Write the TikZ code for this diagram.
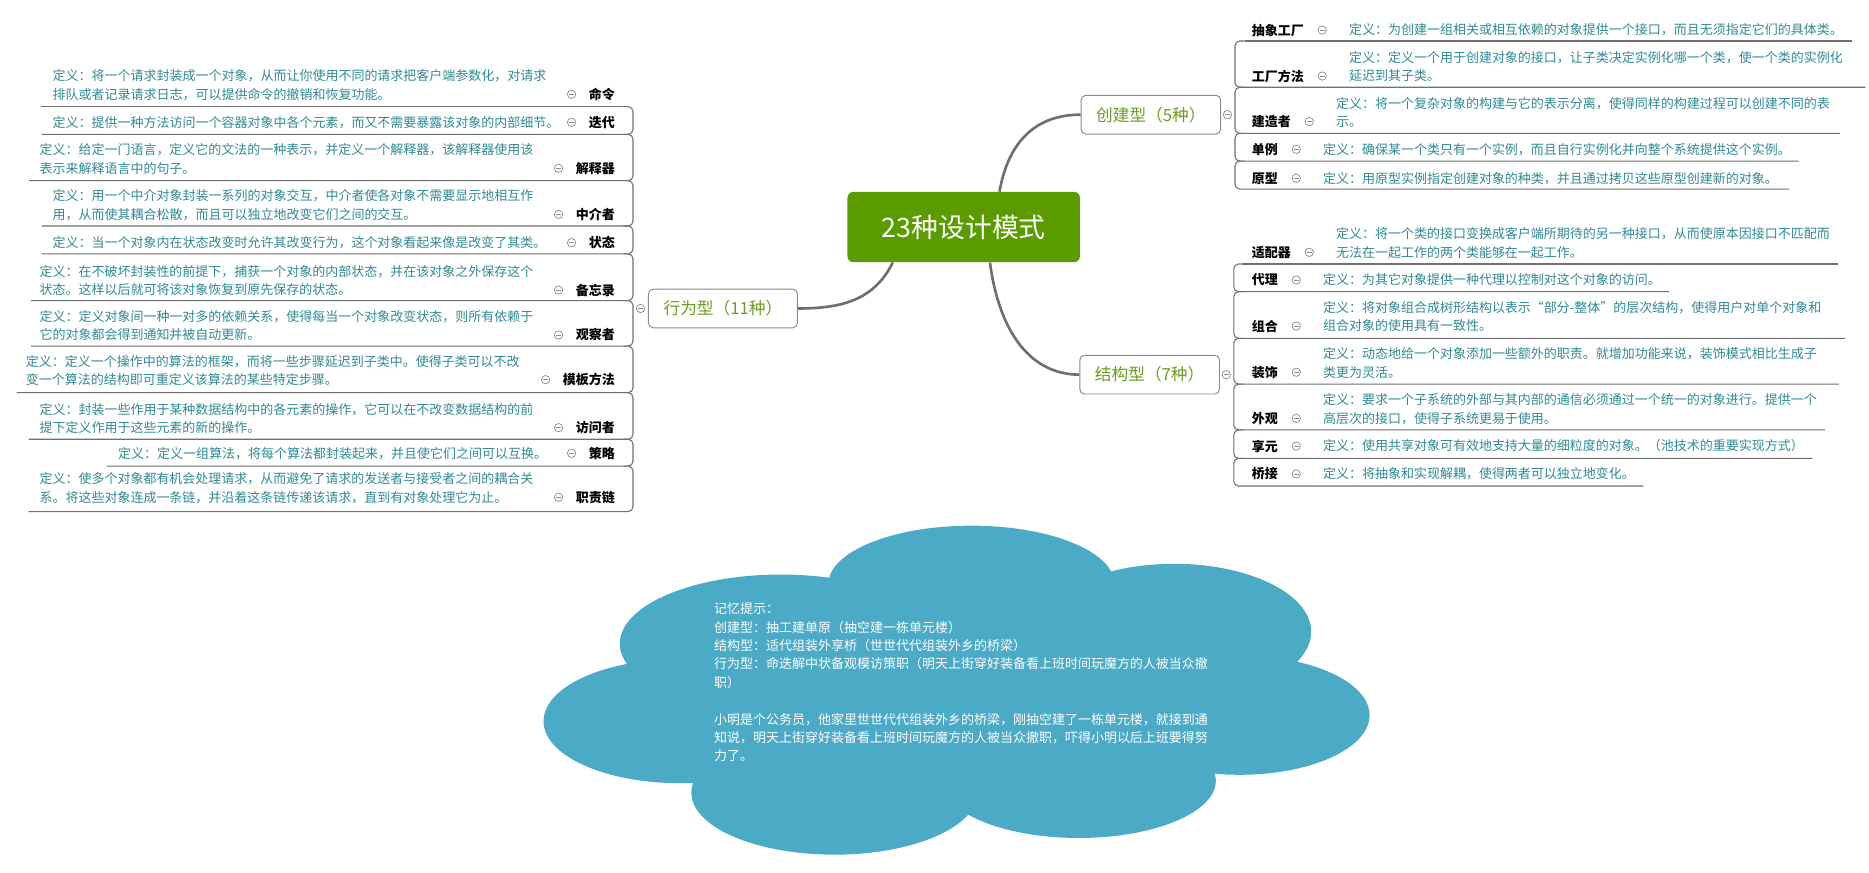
\documentclass[tikz,border=0pt]{standalone}
\usepackage{fontspec}
\setmainfont{Noto Sans CJK SC}
\usetikzlibrary{positioning}

\definecolor{hubgreen}{HTML}{5A9B00}
\definecolor{branchgreen}{HTML}{6A9F1E}
\definecolor{defteal}{HTML}{2F8A96}
\definecolor{boxgray}{HTML}{8A8A8A}
\definecolor{foldgray}{HTML}{8C8C8C}
\definecolor{twiggray}{HTML}{707070}
\definecolor{trunkgray}{HTML}{6E6E6E}
\definecolor{cloudblue}{HTML}{4BAAC5}

\begin{document}
\begin{tikzpicture}[x=1pt, y=-1pt,
  hub/.style={fill=hubgreen, text=white, rounded corners=5pt, minimum width=195pt, minimum height=59pt, font=\fontsize{22.5}{26}\selectfont},
  branch/.style={draw=boxgray, fill=white, line width=0.8pt, rounded corners=4pt, text=branchgreen, inner xsep=12.7pt, minimum height=32.5pt, font=\fontsize{14}{17}\selectfont},
  leaf/.style={inner sep=0pt, font=\fontsize{10.9}{15.4}\selectfont\bfseries},
  defn/.style={inner sep=0pt, align=left, text=defteal, font=\fontsize{10.9}{15.4}\selectfont},
  fold/.style={circle, draw=foldgray, fill=white, line width=0.6pt, minimum size=7pt, inner sep=0pt,
    path picture={\draw[foldgray, line width=0.6pt] ([xshift=1.6pt]path picture bounding box.west) -- ([xshift=-1.6pt]path picture bounding box.east);}},
  twig/.style={draw=twiggray, line width=0.9pt, rounded corners=4pt},
  trunk/.style={draw=trunkgray, line width=2.2pt},
  memo/.style={inner sep=0pt, align=left, text=white, font=\fontsize{10.9}{15.4}\selectfont}]

    \path[use as bounding box, fill=white] (0,0) rectangle (1568,732);

    % centre and the three groups
    \node[hub] (hub) at (808.5,190.5) {23种设计模式};
    \node[branch] (cre) at (965.5,96.2) {创建型（5种）};
    \node[branch] (str) at (964.5,314.3) {结构型（7种）};
    \node[branch] (beh) at (606.5,258.8) {行为型（11种）};
    \node[fold, right=1.5pt of cre] (cre-f) {};
    \node[fold, right=1.5pt of str] (str-f) {};
    \node[fold, left=2.5pt of beh] (beh-f) {};
    \coordinate (cre-v) at ([xshift=2.5pt]cre-f.east);
    \coordinate (str-v) at ([xshift=2.5pt]str-f.east);
    \coordinate (beh-v) at ([xshift=-2.5pt]beh-f.west);

    \draw[trunk] ([xshift=30pt]hub.north) .. controls +(8,-45) and +(-35,0) .. (cre.west);
    \draw[trunk] ([xshift=22pt]hub.south) .. controls +(8,60) and +(-40,0) .. (str.west);
    \draw[trunk] ([xshift=-59.5pt]hub.south) .. controls +(-15,30) and +(40,0) .. (beh.east);

    % creational patterns
    \node[leaf, anchor=west] (afact) at (1050,25.2) {抽象工厂};
    \node[fold, right=11.5pt of afact] (afact-f) {};
    \node[defn, right=18.5pt of afact-f] (afact-d) {定义：为创建一组相关或相互依赖的对象提供一个接口，而且无须指定它们的具体类。};
    \coordinate (afact-u) at (1554,34.4);

    \node[leaf, anchor=west] (fmeth) at (1050,63.8) {工厂方法};
    \node[fold, right=11.5pt of fmeth] (fmeth-f) {};
    \node[defn, right=18.5pt of fmeth-f, yshift=7.7pt] (fmeth-d) {定义：定义一个用于创建对象的接口，让子类决定实例化哪一个类，使一个类的实例化\\延迟到其子类。};
    \coordinate (fmeth-u) at (1565,73.2);

    \node[leaf, anchor=west] (build) at (1050,102) {建造者};
    \node[fold, right=11.5pt of build] (build-f) {};
    \node[defn, right=18.5pt of build-f, yshift=7.7pt] (build-d) {定义：将一个复杂对象的构建与它的表示分离，使得同样的构建过程可以创建不同的表\\示。};
    \coordinate (build-u) at (1543.5,111.9);

    \node[leaf, anchor=west] (singl) at (1050,125.3) {单例};
    \node[fold, right=11.5pt of singl] (singl-f) {};
    \node[defn, right=18.5pt of singl-f] (singl-d) {定义：确保某一个类只有一个实例，而且自行实例化并向整个系统提供这个实例。};
    \coordinate (singl-u) at (1509,135.1);

    \node[leaf, anchor=west] (proto) at (1050,149.6) {原型};
    \node[fold, right=11.5pt of proto] (proto-f) {};
    \node[defn, right=18.5pt of proto-f] (proto-d) {定义：用原型实例指定创建对象的种类，并且通过拷贝这些原型创建新的对象。};
    \coordinate (proto-u) at (1501,158.6);

    \draw[twig] (afact-u) -- ([xshift=8pt]cre-v |- afact-u);
    \draw[twig] ([xshift=8pt]cre-v |- afact-u) -- (cre-v |- afact-u) -- (cre-v |- fmeth-u) -- (fmeth-u);
    \draw[twig] ([xshift=8pt]cre-v |- fmeth-u) -- (cre-v |- fmeth-u) -- (cre-v |- build-u) -- (build-u);
    \draw[twig] ([xshift=8pt]cre-v |- build-u) -- (cre-v |- build-u) -- (cre-v |- singl-u) -- (singl-u);
    \draw[twig] ([xshift=8pt]cre-v |- singl-u) -- (cre-v |- singl-u) -- (cre-v |- proto-u) -- (proto-u);

    % structural patterns
    \node[leaf, anchor=west] (adapt) at (1050,211.7) {适配器};
    \node[fold, right=11.5pt of adapt] (adapt-f) {};
    \node[defn, right=18.5pt of adapt-f, yshift=7.7pt] (adapt-d) {定义：将一个类的接口变换成客户端所期待的另一种接口，从而使原本因接口不匹配而\\无法在一起工作的两个类能够在一起工作。};
    \coordinate (adapt-u) at (1542,221.5);

    \node[leaf, anchor=west] (proxy) at (1050,234.9) {代理};
    \node[fold, right=11.5pt of proxy] (proxy-f) {};
    \node[defn, right=18.5pt of proxy-f] (proxy-d) {定义：为其它对象提供一种代理以控制对这个对象的访问。};
    \coordinate (proxy-u) at (1400,244.7);

    \node[leaf, anchor=west] (compo) at (1050,273.5) {组合};
    \node[fold, right=11.5pt of compo] (compo-f) {};
    \node[defn, right=18.5pt of compo-f, yshift=7.7pt] (compo-d) {定义：将对象组合成树形结构以表示“部分-整体”的层次结构，使得用户对单个对象和\\组合对象的使用具有一致性。};
    \coordinate (compo-u) at (1548,283.8);

    \node[leaf, anchor=west] (decor) at (1050,312.3) {装饰};
    \node[fold, right=11.5pt of decor] (decor-f) {};
    \node[defn, right=18.5pt of decor-f, yshift=7.7pt] (decor-d) {定义：动态地给一个对象添加一些额外的职责。就增加功能来说，装饰模式相比生成子\\类更为灵活。};
    \coordinate (decor-u) at (1543,322.2);

    \node[leaf, anchor=west] (facad) at (1050,351) {外观};
    \node[fold, right=11.5pt of facad] (facad-f) {};
    \node[defn, right=18.5pt of facad-f, yshift=7.7pt] (facad-d) {定义：要求一个子系统的外部与其内部的通信必须通过一个统一的对象进行。提供一个\\高层次的接口，使得子系统更易于使用。};
    \coordinate (facad-u) at (1531,360.7);

    \node[leaf, anchor=west] (flywt) at (1050,374.2) {享元};
    \node[fold, right=11.5pt of flywt] (flywt-f) {};
    \node[defn, right=18.5pt of flywt-f] (flywt-d) {定义：使用共享对象可有效地支持大量的细粒度的对象。（池技术的重要实现方式）};
    \coordinate (flywt-u) at (1520.6,384.5);

    \node[leaf, anchor=west] (bridg) at (1050,397.7) {桥接};
    \node[fold, right=11.5pt of bridg] (bridg-f) {};
    \node[defn, right=18.5pt of bridg-f] (bridg-d) {定义：将抽象和实现解耦，使得两者可以独立地变化。};
    \coordinate (bridg-u) at (1378.7,407.7);

    \draw[twig] (adapt-u) -- ([xshift=8pt]str-v |- adapt-u);
    \draw[twig] ([xshift=8pt]str-v |- adapt-u) -- (str-v |- adapt-u) -- (str-v |- proxy-u) -- (proxy-u);
    \draw[twig] ([xshift=8pt]str-v |- proxy-u) -- (str-v |- proxy-u) -- (str-v |- compo-u) -- (compo-u);
    \draw[twig] ([xshift=8pt]str-v |- compo-u) -- (str-v |- compo-u) -- (str-v |- decor-u) -- (decor-u);
    \draw[twig] ([xshift=8pt]str-v |- decor-u) -- (str-v |- decor-u) -- (str-v |- facad-u) -- (facad-u);
    \draw[twig] ([xshift=8pt]str-v |- facad-u) -- (str-v |- facad-u) -- (str-v |- flywt-u) -- (flywt-u);
    \draw[twig] ([xshift=8pt]str-v |- flywt-u) -- (str-v |- flywt-u) -- (str-v |- bridg-u) -- (bridg-u);

    % behavioral patterns
    \node[leaf, anchor=east] (cmd) at (516,79.1) {命令};
    \node[fold, left=10.5pt of cmd] (cmd-f) {};
    \node[defn, anchor=west] (cmd-d) at (44,71.4) {定义：将一个请求封装成一个对象，从而让你使用不同的请求把客户端参数化，对请求\\排队或者记录请求日志，可以提供命令的撤销和恢复功能。};
    \coordinate (cmd-u) at (34.8,89.5);

    \node[leaf, anchor=east] (iter) at (516,102.6) {迭代};
    \node[fold, left=10.5pt of iter] (iter-f) {};
    \node[defn, anchor=west] (iter-d) at (44,102.6) {定义：提供一种方法访问一个容器对象中各个元素，而又不需要暴露该对象的内部细节。};
    \coordinate (iter-u) at (35,112.7);

    \node[leaf, anchor=east] (interp) at (516,141.2) {解释器};
    \node[fold, left=10.5pt of interp] (interp-f) {};
    \node[defn, anchor=west] (interp-d) at (33,133.5) {定义：给定一门语言，定义它的文法的一种表示，并定义一个解释器，该解释器使用该\\表示来解释语言中的句子。};
    \coordinate (interp-u) at (24.4,151.6);

    \node[leaf, anchor=east] (medi) at (516,179.8) {中介者};
    \node[fold, left=10.5pt of medi] (medi-f) {};
    \node[defn, anchor=west] (medi-d) at (44,172.1) {定义：用一个中介对象封装一系列的对象交互，中介者使各对象不需要显示地相互作\\用，从而使其耦合松散，而且可以独立地改变它们之间的交互。};
    \coordinate (medi-u) at (35,189.6);

    \node[leaf, anchor=east] (state) at (516,203.6) {状态};
    \node[fold, left=10.5pt of state] (state-f) {};
    \node[defn, anchor=west] (state-d) at (44,203.6) {定义：当一个对象内在状态改变时允许其改变行为，这个对象看起来像是改变了其类。};
    \coordinate (state-u) at (35,213);

    \node[leaf, anchor=east] (memo) at (516,243.3) {备忘录};
    \node[fold, left=10.5pt of memo] (memo-f) {};
    \node[defn, anchor=west] (memo-d) at (33,235.6) {定义：在不破坏封装性的前提下，捕获一个对象的内部状态，并在该对象之外保存这个\\状态。这样以后就可将该对象恢复到原先保存的状态。};
    \coordinate (memo-u) at (26,252.2);

    \node[leaf, anchor=east] (obsv) at (516,281) {观察者};
    \node[fold, left=10.5pt of obsv] (obsv-f) {};
    \node[defn, anchor=west] (obsv-d) at (33,273.3) {定义：定义对象间一种一对多的依赖关系，使得每当一个对象改变状态，则所有依赖于\\它的对象都会得到通知并被自动更新。};
    \coordinate (obsv-u) at (26,290.3);

    \node[leaf, anchor=east] (tmpl) at (516,318.5) {模板方法};
    \node[fold, left=10.5pt of tmpl] (tmpl-f) {};
    \node[defn, anchor=west] (tmpl-d) at (21.6,310.8) {定义：定义一个操作中的算法的框架，而将一些步骤延迟到子类中。使得子类可以不改\\变一个算法的结构即可重定义该算法的某些特定步骤。};
    \coordinate (tmpl-u) at (13.9,329.4);

    \node[leaf, anchor=east] (visit) at (516,358.8) {访问者};
    \node[fold, left=10.5pt of visit] (visit-f) {};
    \node[defn, anchor=west] (visit-d) at (33,351.1) {定义：封装一些作用于某种数据结构中的各元素的操作，它可以在不改变数据结构的前\\提下定义作用于这些元素的新的操作。};
    \coordinate (visit-u) at (24,368.5);

    \node[leaf, anchor=east] (strat) at (516,380.3) {策略};
    \node[fold, left=10.5pt of strat] (strat-f) {};
    \node[defn, anchor=west] (strat-d) at (99,380.3) {定义：定义一组算法，将每个算法都封装起来，并且使它们之间可以互换。};
    \coordinate (strat-u) at (89.7,391);

    \node[leaf, anchor=east] (chain) at (516,417.2) {职责链};
    \node[fold, left=10.5pt of chain] (chain-f) {};
    \node[defn, anchor=west] (chain-d) at (33,409.5) {定义：使多个对象都有机会处理请求，从而避免了请求的发送者与接受者之间的耦合关\\系。将这些对象连成一条链，并沿着这条链传递该请求，直到有对象处理它为止。};
    \coordinate (chain-u) at (24,429.2);

    \draw[twig] (cmd-u) -- ([xshift=-8pt]beh-v |- cmd-u);
    \draw[twig] ([xshift=-8pt]beh-v |- cmd-u) -- (beh-v |- cmd-u) -- (beh-v |- iter-u) -- (iter-u);
    \draw[twig] ([xshift=-8pt]beh-v |- iter-u) -- (beh-v |- iter-u) -- (beh-v |- interp-u) -- (interp-u);
    \draw[twig] ([xshift=-8pt]beh-v |- interp-u) -- (beh-v |- interp-u) -- (beh-v |- medi-u) -- (medi-u);
    \draw[twig] ([xshift=-8pt]beh-v |- medi-u) -- (beh-v |- medi-u) -- (beh-v |- state-u) -- (state-u);
    \draw[twig] ([xshift=-8pt]beh-v |- state-u) -- (beh-v |- state-u) -- (beh-v |- memo-u) -- (memo-u);
    \draw[twig] ([xshift=-8pt]beh-v |- memo-u) -- (beh-v |- memo-u) -- (beh-v |- obsv-u) -- (obsv-u);
    \draw[twig] ([xshift=-8pt]beh-v |- obsv-u) -- (beh-v |- obsv-u) -- (beh-v |- tmpl-u) -- (tmpl-u);
    \draw[twig] ([xshift=-8pt]beh-v |- tmpl-u) -- (beh-v |- tmpl-u) -- (beh-v |- visit-u) -- (visit-u);
    \draw[twig] ([xshift=-8pt]beh-v |- visit-u) -- (beh-v |- visit-u) -- (beh-v |- strat-u) -- (strat-u);
    \draw[twig] ([xshift=-8pt]beh-v |- strat-u) -- (beh-v |- strat-u) -- (beh-v |- chain-u) -- (chain-u);

    % memory hint cloud
    \fill[cloudblue] (800,590) ellipse [x radius=250pt, y radius=90pt];
    \fill[cloudblue] (815,490) ellipse [x radius=120pt, y radius=49pt];
    \fill[cloudblue] (985,530) ellipse [x radius=115pt, y radius=57pt];
    \fill[cloudblue] (1040,600) ellipse [x radius=109pt, y radius=50pt];
    \fill[cloudblue] (905,655) ellipse [x radius=115pt, y radius=48pt];
    \fill[cloudblue] (700,665) ellipse [x radius=120pt, y radius=52pt];
    \fill[cloudblue] (570,605) ellipse [x radius=114pt, y radius=52pt];
    \fill[cloudblue] (655,540) ellipse [x radius=135pt, y radius=58pt];
    \node[memo, anchor=west] (hint) at (599,572.5) {记忆提示：\\创建型：抽工建单原（抽空建一栋单元楼）\\结构型：适代组装外享桥（世世代代组装外乡的桥梁）\\行为型：命迭解中状备观模访策职（明天上街穿好装备看上班时间玩魔方的人被当众撤\\职）\\[15.4pt]小明是个公务员，他家里世世代代组装外乡的桥梁，刚抽空建了一栋单元楼，就接到通\\知说，明天上街穿好装备看上班时间玩魔方的人被当众撤职，吓得小明以后上班要得努\\力了。};
\end{tikzpicture}
\end{document}
